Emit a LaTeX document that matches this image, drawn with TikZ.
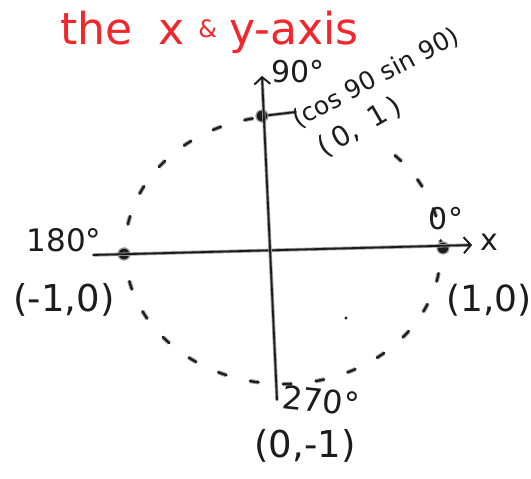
\documentclass[tikz,border=0pt]{standalone}
\usepackage{fontspec}
\setmainfont{DejaVu Sans}
\usepackage{tikz}
\usetikzlibrary{arrows.meta,positioning,calc}
\definecolor{hink}{HTML}{1C1C1C}
\definecolor{hhalo}{HTML}{9A9A9A}
\definecolor{hred}{HTML}{F2262B}
\tikzset{
  hand/.style={text=hink,inner sep=0pt,font=\fontsize{#1}{#1}\selectfont},
  hand/.default=30,
  title/.style={text=hred,inner sep=0pt,font=\fontsize{44}{44}\selectfont},
  dotpt/.style={circle,fill=hink,draw=hhalo,line width=1.2pt,inner sep=0pt,minimum size=12pt},
  axisl/.style={draw=hink,line width=1.8pt,line cap=round,preaction={draw=hhalo,line width=3.4pt},
    -{Straight Barb[length=7pt,width=16pt,line width=1.8pt]}},
  plainl/.style={draw=hink,line width=1.8pt,line cap=round,preaction={draw=hhalo,line width=3.4pt}},
  circ/.style={draw=hink,line width=2.2pt,line cap=round,dash pattern=on 9pt off 24pt,
    preaction={draw=hhalo,line width=4.2pt,dash pattern=on 9pt off 24pt}},
}
\begin{document}
\begin{tikzpicture}[x=1pt,y=-1pt]
  \useasboundingbox (0,0) rectangle (531,479);
  \coordinate (c) at (283,250);
  % dashed unit circle, left open behind the (cos 90 sin 90) label
  \draw[circ] ([shift={(c)}]-45:158 and 134) arc[start angle=-45,end angle=263,x radius=158,y radius=134];
  % points on the circle
  \foreach \n/\p in {p90/{(262,116)},p180/{(124,254)},p0/{(443,248)}}
    \node[dotpt] (\n) at \p {};
  \coordinate (xl) at (93,255);
  \coordinate (xr) at (472,245);
  \coordinate (yb) at (277,400);
  \coordinate (yt) at (262,76);
  \coordinate (tick90) at (296,112);
  \draw[axisl] (xl) -- (xr);
  \draw[axisl] (yb) -- (yt);
  \draw[plainl] (p90) -- (tick90);
  \fill[hink] (346,318) circle (1.6);
  % labels
  \node[title,anchor=base west] (head) at (60,44)
    {the\hspace{26pt}x\hspace{14pt}\raisebox{6pt}{\fontsize{24}{24}\selectfont\&}\hspace{12pt}y-axis};
  \node[hand] (l90) at (298,72) {90°};
  \node[hand=25,rotate=28] (cosl) at (376,78) {(cos 90 sin 90)};
  \node[hand=28,rotate=30] (cosv) at (360,127) {(\,0,\;\;1\,)};
  \node[hand=31] (l180) at (64,240) {180°};
  \node[hand=37] (lm1) at (64,300) {(-1,0)};
  \node[hand] (l0) at (446,219) {0°};
  \node[hand] (lx) at (489,242) {x};
  \node[hand=36] (lp1) at (489,300) {(1,0)};
  \node[hand=32,rotate=-6] (l270) at (321,401) {270°};
  \node[hand=37] (lmy) at (305,446) {(0,-1)};
\end{tikzpicture}
\end{document}
